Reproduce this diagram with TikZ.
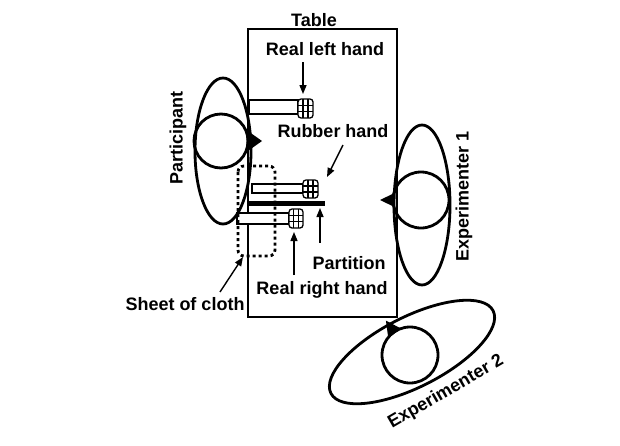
\documentclass[tikz,border=0pt]{standalone}
\usepackage{fontspec}
\setmainfont{Liberation Sans}
\usetikzlibrary{%
  calc,
  arrows.meta,
  positioning
}
% nez : centre de la tete, rayon, angle, longueur, demi-largeur
\newcommand{\nez}[6]{%
  \pgfmathsetmacro{\r}{#3}
  \begin{scope}[shift={(#1,#2)}, rotate=#4]
    \fill (\r-1.5,-#6) -- (\r+#5, 0.0) -- (\r-1.5, #6) -- cycle ;
  \end{scope}
}
% main quadrillee : coin haut gauche, largeur, hauteur
\newcommand{\maingrille}[4]{%
  \pgfmathsetmacro{\mx}{#1}
  \pgfmathsetmacro{\my}{#2}
  \pgfmathsetmacro{\mw}{#3}
  \pgfmathsetmacro{\mh}{#4}
  \begin{scope}[line width=1.3pt]
    \draw [fill=white, rounded corners=3pt]
          (\mx, \my) rectangle ++ (\mw, \mh) ;
    \foreach \k in {1, 2} {
      \draw (\mx+\k*\mw/3, \my) -- ++ ( 0.0, \mh) ;
      \draw (\mx, \my+\k*\mh/3) -- ++ (\mw, 0.0) ;
    }
  \end{scope}
}

\begin{document}
\begin{tikzpicture}[
  x=1pt, y=-1pt,
  line width=2.8pt,
  >={Triangle[length=9pt,width=7pt]},
  etiquette/.style={font=\fontsize{18}{20}\selectfont\bfseries, inner sep=0pt},
  fleche/.style={->, line width=1.4pt},
  bras/.style={fill=white, line width=2.3pt},
]
  \useasboundingbox (0,0) rectangle (620,445) ;

  % table
  \draw (248,29) rectangle (397,317) ;

  % corps et tetes
  \draw (223,151) circle [x radius=28, y radius=73] ;
  \draw (221,141) circle [radius=27] ;
  \nez{221}{141}{27}{0}{14}{11}

  \draw (422,205) circle [x radius=28, y radius=80] ;
  \draw (421,200) circle [radius=28] ;
  \nez{421}{200}{28}{180}{13}{7}

  \draw [rotate around={27:(412,352)}]
        (412,352) circle [x radius=91, y radius=35] ;
  \draw (410,355) circle [radius=28] ;
  \nez{410}{355}{28}{125}{14}{8}

  % cloison
  \fill (248,201) rectangle (325,206) ;

  % bras et mains
  \draw [bras] (249,100) rectangle (298,114) ;
  \maingrille{298}{99}{15}{19}
  \draw [bras] (252,184) rectangle (303,193) ;
  \maingrille{303}{180}{15}{18}
  \draw [bras] (237,213) rectangle (289,224) ;
  \maingrille{289}{209}{14}{19}

  % drap
  \draw [dash pattern=on 3pt off 3pt, rounded corners=6pt]
        (238,166) rectangle (275,256) ;

  % etiquettes
  \node [etiquette] (ltable) at (314,20) {Table} ;
  \node [etiquette] (lgauche) at (325,49) {Real left hand} ;
  \node [etiquette] (lcaoutchouc) at (333,131) {Rubber hand} ;
  \node [etiquette] (lcloison) at (349,263) {Partition} ;
  \node [etiquette] (ldroite) at (322,290) {Real right hand} ;
  \node [etiquette] (ldrap) at (185,304) {Sheet of cloth} ;
  \node [etiquette, rotate=90] (lpart) at (178,138) {Participant} ;
  \node [etiquette, rotate=90] (lexp1) at (464,196) {Experimenter 1} ;
  \node [etiquette, rotate=30] (lexp2) at (446,392) {Experimenter 2} ;

  % fleches
  \coordinate (mg) at (303,94) ;
  \coordinate (mc) at (327,177) ;
  \coordinate (mp) at (320,208) ;
  \coordinate (md) at (294,232) ;
  \coordinate (md2) at (243,257) ;
  \draw [fleche] ([yshift=-5pt]lgauche.south -| mg) -- (mg) ;
  \draw [fleche] ([xshift=10pt,yshift=-6pt]lcaoutchouc.south) -- (mc) ;
  \draw [fleche] ([yshift=12pt]lcloison.north -| mp) -- (mp) ;
  \draw [fleche] ([yshift=5pt]ldroite.north -| md) -- (md) ;
  \draw [fleche] ([xshift=35pt,yshift=4pt]ldrap.north) -- (md2) ;
\end{tikzpicture}
\end{document}
